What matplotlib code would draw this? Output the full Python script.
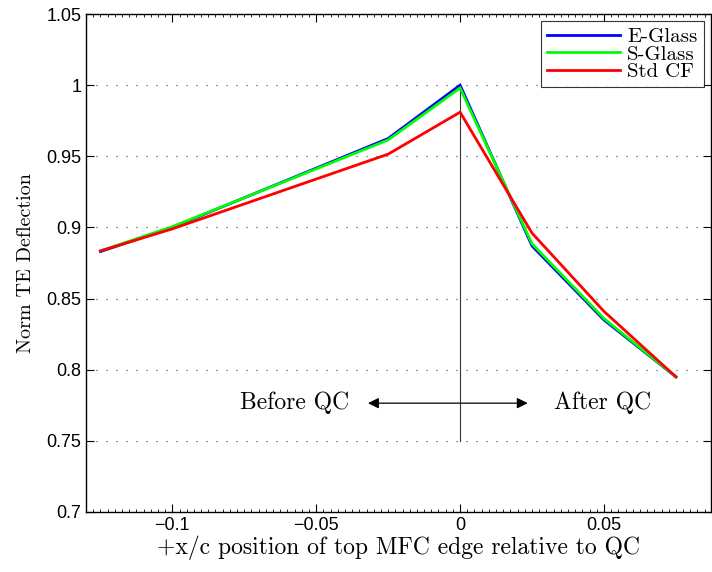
import matplotlib
matplotlib.use("Agg")
import matplotlib.pyplot as plt
from matplotlib.ticker import MultipleLocator

plt.rcParams["axes.formatter.use_mathtext"] = True

# MFC edge position (x/c relative to QC) and normalised TE deflection
x_pos = [-0.125, -0.1, -0.025, 0.0, 0.025, 0.05, 0.075]
e_glass = [0.8830, 0.9000, 0.9625, 1.0000, 0.8870, 0.8350, 0.7950]
s_glass = [0.8835, 0.9005, 0.9615, 0.9980, 0.8885, 0.8360, 0.7950]
std_cf = [0.8835, 0.8990, 0.9515, 0.9810, 0.8960, 0.8410, 0.7950]

series = [
    ("E-Glass", e_glass, "#0000ff"),
    ("S-Glass", s_glass, "#00ff00"),
    ("Std CF", std_cf, "#ff0000"),
]

y_ticks = [0.7, 0.75, 0.8, 0.85, 0.9, 0.95, 1.0, 1.05]
y_ticklabels = ["0.7", "0.75", "0.8", "0.85", "0.9", "0.95", "1", "1.05"]
x_ticks = [-0.1, -0.05, 0.0, 0.05]
x_ticklabels = ["\u22120.1", "\u22120.05", "0", "0.05"]

SERIF = "cmr10"

fig = plt.figure(figsize=(7.12, 5.72), dpi=100)
ax = fig.add_axes([86 / 712, 60 / 572, 625 / 712, 498 / 572])

for name, vals, col in series:
    ax.plot(x_pos, vals, color=col, lw=2, label=name, solid_joinstyle="miter")

ax.set_xlim(-0.13, 0.0872)
ax.set_ylim(0.7, 1.05)

# horizontal dotted grid
for yv in y_ticks[1:-1]:
    ax.axhline(yv, color="#444444", lw=0.8, ls=(0, (1, 8)), zorder=0)

# QC marker and before/after annotation
ax.plot([0, 0], [0.75, 1.0], color="#333333", lw=0.8, zorder=1)
ax.annotate("", xy=(-0.032, 0.7765), xytext=(0.0235, 0.7765),
            arrowprops=dict(arrowstyle="<|-|>", color="black", lw=0.9,
                            mutation_scale=16, shrinkA=0, shrinkB=0))
ax.text(-0.0385, 0.7765, "Before QC", fontsize=17, family=SERIF,
        ha="right", va="center")
ax.text(0.0325, 0.7765, "After QC", fontsize=17, family=SERIF,
        ha="left", va="center")

ax.set_xticks(x_ticks)
ax.set_xticklabels(x_ticklabels)
ax.set_yticks(y_ticks)
ax.set_yticklabels(y_ticklabels)
ax.xaxis.set_minor_locator(MultipleLocator(0.0025))
ax.tick_params(which="major", direction="in", length=6, top=True, right=True,
               labelsize=13, width=0.8)
ax.tick_params(which="minor", direction="in", length=2, top=True, width=0.6)
for lbl in ax.get_xticklabels() + ax.get_yticklabels():
    lbl.set_family("Liberation Sans")
for sp in ax.spines.values():
    sp.set_linewidth(1.0)

ax.set_xlabel("+x/c position of top MFC edge relative to QC", fontsize=17,
              family=SERIF, labelpad=1)
ax.set_ylabel("Norm TE Deflection", fontsize=14.5, family=SERIF, labelpad=8)

leg = ax.legend(loc="upper right", frameon=True, fancybox=False,
                prop={"family": SERIF, "size": 15},
                borderaxespad=0.35, handlelength=3.5, handletextpad=0.35,
                labelspacing=-0.05, borderpad=0.3)
leg.get_frame().set_edgecolor("black")
leg.get_frame().set_linewidth(0.8)

fig.savefig("out.png", dpi=100)
